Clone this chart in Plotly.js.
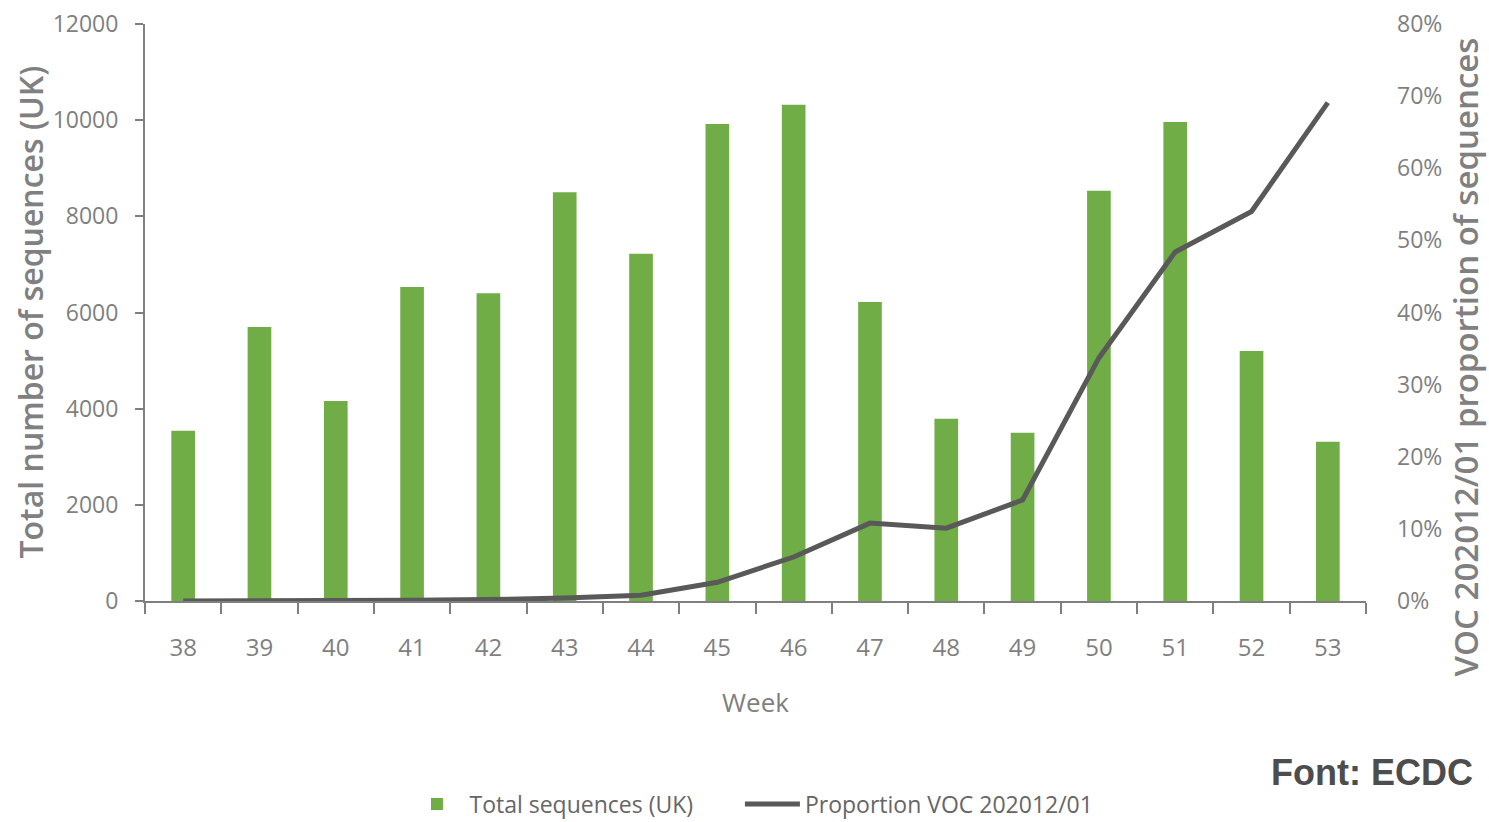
<!DOCTYPE html>
<html>
<head>
<meta charset="utf-8">
<script src="https://cdn.plot.ly/plotly-3.0.1.min.js"></script>
<style>
  html, body { margin: 0; padding: 0; background: #ffffff; }
  #chart { width: 1489px; height: 822px; }
</style>
</head>
<body>
<div id="chart"></div>
<script>
// Data
const weeks = ["38","39","40","41","42","43","44","45","46","47","48","49","50","51","52","53"];
const totalSequences = [3540, 5700, 4160, 6530, 6400, 8500, 7220, 9920, 10320, 6220, 3790, 3500, 8530, 9960, 5200, 3310];
const proportionVOC = [0.000, 0.000, 0.0005, 0.001, 0.002, 0.004, 0.008, 0.026, 0.061, 0.108, 0.101, 0.140, 0.337, 0.484, 0.540, 0.691];
const leftTicks = [0, 2000, 4000, 6000, 8000, 10000, 12000];
const rightTicks = [0, 0.1, 0.2, 0.3, 0.4, 0.5, 0.6, 0.7, 0.8];

const tickFam = '"Open Sans", "DejaVu Sans Condensed", sans-serif';
const titleFam = '"Open Sans", "DejaVu Sans", sans-serif';
const pad = '\u00a0'.repeat(7);

const traces = [
  {
    type: 'bar',
    name: 'Total sequences (UK)' + pad,
    x: weeks,
    y: totalSequences,
    marker: { color: '#70AD47' },
    yaxis: 'y'
  },
  {
    type: 'scatter',
    mode: 'lines',
    name: 'Proportion VOC 202012/01',
    x: weeks,
    y: proportionVOC,
    line: { color: '#595959', width: 5 },
    yaxis: 'y2'
  }
];

const layout = {
  width: 1489,
  height: 822,
  paper_bgcolor: '#ffffff',
  plot_bgcolor: '#ffffff',
  margin: { l: 145, r: 123, t: 24, b: 221, autoexpand: false },
  bargap: 0.69,
  showlegend: true,
  legend: {
    orientation: 'h',
    x: 0.2125, xanchor: 'left',
    y: -0.352, yanchor: 'middle',
    font: { family: tickFam, size: 23, color: '#666666' },
    itemwidth: 55,
    traceorder: 'normal'
  },
  xaxis: {
    type: 'category',
    automargin: false,
    showline: true,
    linecolor: '#7f7f7f',
    linewidth: 2,
    ticks: 'outside',
    tickson: 'boundaries',
    ticklen: 11,
    tickwidth: 2,
    tickcolor: '#7f7f7f',
    ticklabelstandoff: 24,
    tickfont: { family: tickFam, size: 24, color: '#7f7f7f' },
    showgrid: false,
    zeroline: false,
    title: { text: 'Week', font: { family: tickFam, size: 26, color: '#7f7f7f' }, standoff: 32 }
  },
  yaxis: {
    automargin: false,
    range: [0, 12000],
    tickvals: leftTicks,
    ticktext: leftTicks.map(String),
    showline: true,
    linecolor: '#7f7f7f',
    linewidth: 2,
    ticks: 'outside',
    ticklen: 8,
    tickwidth: 2,
    tickcolor: '#7f7f7f',
    ticklabelstandoff: 12,
    tickfont: { family: tickFam, size: 23, color: '#7f7f7f' },
    showgrid: false,
    zeroline: false
  },
  yaxis2: {
    automargin: false,
    overlaying: 'y',
    side: 'right',
    range: [0, 0.8],
    tickvals: rightTicks,
    tickformat: '.0%',
    showline: false,
    ticks: '',
    ticklabelstandoff: 30,
    tickfont: { family: tickFam, size: 23, color: '#7f7f7f' },
    showgrid: false,
    zeroline: false
  },
  annotations: [
    {
      text: 'Total number of sequences (UK)',
      xref: 'paper', yref: 'paper',
      x: 0, xshift: -115, y: 0.5, yshift: 0,
      textangle: -90,
      showarrow: false,
      font: { family: titleFam, size: 32, color: '#808080', weight: 600 },
      xanchor: 'center', yanchor: 'middle'
    },
    {
      text: 'VOC 202012/01 proportion of sequences',
      xref: 'paper', yref: 'paper',
      x: 1.0, xshift: 99, y: 0.5, yshift: -45,
      textangle: -90,
      showarrow: false,
      font: { family: titleFam, size: 33, color: '#808080', weight: 600 },
      xanchor: 'center', yanchor: 'middle'
    },
    {
      text: '<b>Font: ECDC</b>',
      xref: 'paper', yref: 'paper',
      x: 1.0, xshift: 109, y: 0, yshift: -171,
      showarrow: false,
      xanchor: 'right', yanchor: 'middle',
      font: { family: '"Liberation Sans", Arial, sans-serif', size: 36, color: '#4d4d4d' }
    }
  ]
};

Plotly.newPlot('chart', traces, layout, { displayModeBar: false, staticPlot: true });
</script>
</body>
</html>
